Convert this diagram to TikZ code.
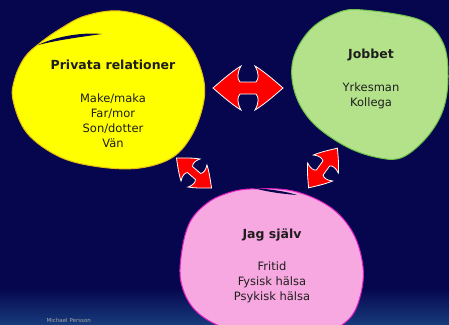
\documentclass[tikz,border=0pt]{standalone}
\usepackage{fontspec}
\setmainfont{DejaVu Sans}
\usetikzlibrary{calc}
\definecolor{navy}{RGB}{6,6,78}
\definecolor{navylow}{RGB}{22,58,122}
\definecolor{inkgray}{RGB}{30,30,30}
\definecolor{yelfill}{RGB}{255,255,0}
\definecolor{yeledge}{RGB}{230,190,20}
\definecolor{grnfill}{RGB}{180,226,138}
\definecolor{grnedge}{RGB}{110,196,74}
\definecolor{pnkfill}{RGB}{248,168,224}
\definecolor{pnkedge}{RGB}{226,30,196}

\begin{document}
\begin{tikzpicture}[
    x=1pt, y=-1pt,
    blob/.style={line width=1pt},
    ttl/.style={font=\fontsize{12.5}{14}\selectfont\bfseries, text=inkgray},
    items/.style={font=\fontsize{11.5}{15}\selectfont, text=inkgray, align=center},
    % --- red double arrow with curved heads, tip to tip 70 ---
    pics/dblarrow/.style={code={
        \fill[red, draw=white, line width=0.8pt]
          (-35,0) .. controls (-28,6) and (-17,16) .. (-7,22)
          .. controls (-11,15) and (-11,9) .. (-8,6)
          -- (8,6)
          .. controls (11,9) and (11,15) .. (7,22)
          .. controls (17,16) and (28,6) .. (35,0)
          .. controls (28,-6) and (17,-16) .. (7,-22)
          .. controls (11,-15) and (11,-9) .. (8,-6)
          -- (-8,-6)
          .. controls (-11,-9) and (-11,-15) .. (-7,-22)
          .. controls (-17,-16) and (-28,-6) .. (-35,0) -- cycle;
    }}
]
\useasboundingbox (0,0) rectangle (449,324);
\clip (0,0) rectangle (449,324);

% background, lighter towards the bottom
\fill[navy] (0,0) rectangle (449,324);
\shade[top color=navy, bottom color=navylow] (0,288) rectangle (449,324);

% =========================================================
% THE THREE BLOBS
% =========================================================
\filldraw[blob, fill=yelfill, draw=yeledge] plot[smooth cycle, tension=0.6] coordinates {
  (120,11) (160,22) (188,44) (202,73) (204,100) (193,133) (173,157) (140,168)
  (100,167) (60,157) (27,133) (13,100) (15,78) (25,57) (40,43) (60,29) (85,16)};
\fill[navy] (38,45) .. controls (55,37) and (80,32) .. (102,34)
            .. controls (80,37) and (58,40) .. (38,45);

\filldraw[blob, fill=grnfill, draw=grnedge] plot[smooth cycle, tension=0.6] coordinates {
  (363,10) (420,20) (443,43) (448,77) (443,110) (427,137) (403,157) (380,158)
  (347,147) (313,123) (295,93) (293,60) (310,30) (337,13)};
\draw[grnedge!60!white, line width=0.8pt] (363,12) -- (395,19);

\filldraw[blob, fill=pnkfill, draw=pnkedge] plot[smooth cycle, tension=0.6] coordinates {
  (250,189) (293,191) (330,207) (353,233) (363,267) (360,297) (348,320) (320,334)
  (270,336) (225,328) (195,310) (181,282) (182,250) (190,222) (206,204) (225,194)};
\fill[navy] (253,188) .. controls (268,189) and (285,191) .. (297,195)
            .. controls (283,194) and (268,192) .. (253,188);

% =========================================================
% TEXTS
% =========================================================
\node[ttl] (privt) at (113,65) {Privata relationer};
\node[items] (privi) at (113,121) {Make/maka\\Far/mor\\Son/dotter\\Vän};

\node[ttl] (jobt) at (371,55) {Jobbet};
\node[items] (jobi) at (371,96) {Yrkesman\\Kollega};

\node[ttl] (jagt) at (272,235) {Jag själv};
\node[items] (jagi) at (272,282) {Fritid\\Fysisk hälsa\\Psykisk hälsa};

\node[font=\fontsize{5.5}{6}\selectfont, text=gray!70, anchor=south west, inner sep=0.5pt]
  (sign) at (46,323.5) {Michael Persson};

% =========================================================
% ARROWS BETWEEN THE BLOBS
% =========================================================
\coordinate (pj) at (248,88);
\coordinate (pm) at (194,173);
\coordinate (jm) at (323,168);
\pic at (pj) {dblarrow};
\pic[rotate=-40.6, scale=0.66] at (pm) {dblarrow};
\pic[rotate=54, scale=0.7] at (jm) {dblarrow};

\end{tikzpicture}
\end{document}
